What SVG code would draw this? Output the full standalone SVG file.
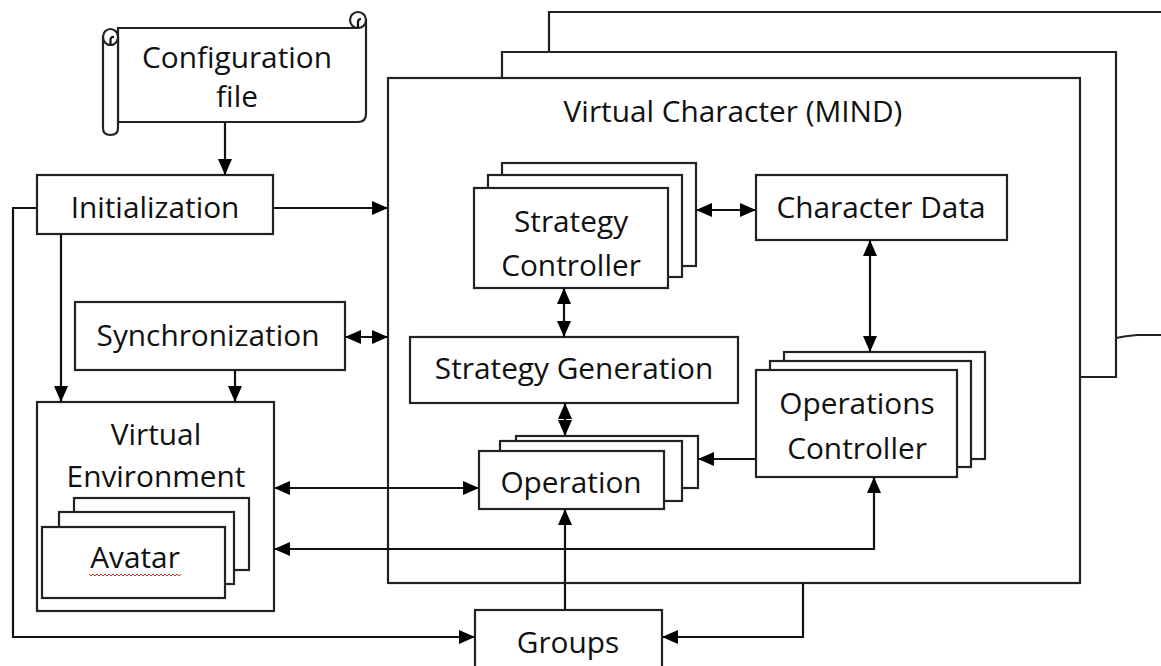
<svg xmlns="http://www.w3.org/2000/svg" width="1161" height="666" viewBox="0 0 1161 666">
<style>
.b{fill:#fff;stroke:#222;stroke-width:2.2}
.c{fill:none;stroke:#111;stroke-width:2.2}
.t{font-family:"Open Sans","Liberation Sans",sans-serif;font-size:29.8px;fill:#111;text-anchor:middle}
</style>
<defs>
<marker id="ah" viewBox="0 0 16 14" refX="16" refY="7" markerWidth="16" markerHeight="14" markerUnits="userSpaceOnUse" orient="auto-start-reverse"><path d="M0,0 L16,7 L0,14 z" fill="#000"/></marker>
</defs>
<rect width="1161" height="666" fill="#fff"/>

<g id="virtual-character">
<path class="b" d="M549,338 V12 H1170 V335 H1137 Q1125,336 1116,338 Z"/>
<path class="b" d="M502,377 V52 H1116 V377 H1090 Z"/>
<rect class="b" x="388" y="78" width="692" height="505"/>
<text class="t" x="733" y="122">Virtual Character (MIND)</text>
</g>

<g id="config-file">
<path class="b" d="M118,28 H358 A8,8 0 0 1 366,20 V114 Q366,122 358,122 H118 Z"/>
<circle class="b" cx="358" cy="20" r="8"/>
<path class="c" d="M358,28 V22 A3,3 0 0 1 361,19" stroke-width="1.8"/>
<path class="b" d="M103,37 V128 Q103,135 110.5,135 Q118,135 118,128 V37 Z"/>
<ellipse class="b" cx="110.5" cy="37" rx="7.5" ry="8"/>
<path class="c" d="M110.5,45 V39 A3,3 0 0 1 114,37" stroke-width="1.8"/>
<text class="t" x="237" y="68">Configuration</text>
<text class="t" x="237" y="107">file</text>
</g>

<g id="initialization">
<rect class="b" x="37" y="175" width="236" height="59"/>
<text class="t" x="155" y="218">Initialization</text>
</g>

<g id="synchronization">
<rect class="b" x="75" y="302" width="270" height="68"/>
<text class="t" x="208" y="346">Synchronization</text>
</g>

<g id="virtual-environment">
<rect class="b" x="37" y="402" width="237" height="209"/>
<text class="t" x="156" y="445">Virtual</text>
<text class="t" x="156" y="487">Environment</text>
</g>

<g id="avatar">
<rect class="b" x="74" y="498" width="175" height="72"/>
<rect class="b" x="59" y="512" width="175" height="72"/>
<rect class="b" x="42" y="527" width="183" height="71"/>
<text class="t" x="135" y="568">Avatar</text>
<polyline fill="none" stroke="#e03030" stroke-width="1" points="89,574 91,576 93,574 95,576 97,574 99,576 101,574 103,576 105,574 107,576 109,574 111,576 113,574 115,576 117,574 119,576 121,574 123,576 125,574 127,576 129,574 131,576 133,574 135,576 137,574 139,576 141,574 143,576 145,574 147,576 149,574 151,576 153,574 155,576 157,574 159,576 161,574 163,576 165,574 167,576 169,574 171,576 173,574 175,576 177,574 179,576 181,574"/>
</g>

<g id="strategy-controller">
<rect class="b" x="502" y="163" width="194" height="103"/>
<rect class="b" x="488" y="175" width="194" height="102"/>
<rect class="b" x="474" y="188" width="194" height="100"/>
<text class="t" x="571" y="232">Strategy</text>
<text class="t" x="571" y="276">Controller</text>
</g>

<g id="character-data">
<rect class="b" x="756" y="175" width="251" height="65"/>
<text class="t" x="881" y="218">Character Data</text>
</g>

<g id="strategy-generation">
<rect class="b" x="410" y="337" width="328" height="66"/>
<text class="t" x="574" y="379">Strategy Generation</text>
</g>

<g id="operations-controller">
<rect class="b" x="784" y="352" width="201" height="107"/>
<rect class="b" x="770" y="361" width="201" height="106"/>
<rect class="b" x="756" y="370" width="201" height="107"/>
<text class="t" x="857" y="414">Operations</text>
<text class="t" x="857" y="459">Controller</text>
</g>

<g id="operation">
<rect class="b" x="516" y="436" width="182" height="52"/>
<rect class="b" x="500" y="441" width="182" height="60"/>
<rect class="b" x="479" y="451" width="185" height="58"/>
<text class="t" x="571" y="493">Operation</text>
</g>

<g id="groups">
<rect class="b" x="475" y="610" width="187" height="70"/>
<text class="t" x="568" y="653">Groups</text>
</g>

<g id="connectors" class="c">
<path class="c" d="M225,122 V175" marker-end="url(#ah)"/>
<path class="c" d="M273,208 H388" marker-end="url(#ah)"/>
<path class="c" d="M37,208 H13 V637 H475" marker-end="url(#ah)"/>
<path class="c" d="M61,234 V402" marker-end="url(#ah)"/>
<path class="c" d="M345,337 H388" marker-start="url(#ah)" marker-end="url(#ah)"/>
<path class="c" d="M235,370 V402" marker-end="url(#ah)"/>
<path class="c" d="M696,210 H756" marker-start="url(#ah)" marker-end="url(#ah)"/>
<path class="c" d="M564,288 V337" marker-start="url(#ah)" marker-end="url(#ah)"/>
<path class="c" d="M870,240 V352" marker-start="url(#ah)" marker-end="url(#ah)"/>
<path class="c" d="M565,403 V436" marker-start="url(#ah)" marker-end="url(#ah)"/>
<path class="c" d="M756,459 H698" marker-end="url(#ah)"/>
<path class="c" d="M274,488 H479" marker-start="url(#ah)" marker-end="url(#ah)"/>
<path class="c" d="M274,549 H874 V477" marker-start="url(#ah)" marker-end="url(#ah)"/>
<path class="c" d="M565,610 V509" marker-end="url(#ah)"/>
<path class="c" d="M803,583 V637 H662" marker-end="url(#ah)"/>
</g>
</svg>
